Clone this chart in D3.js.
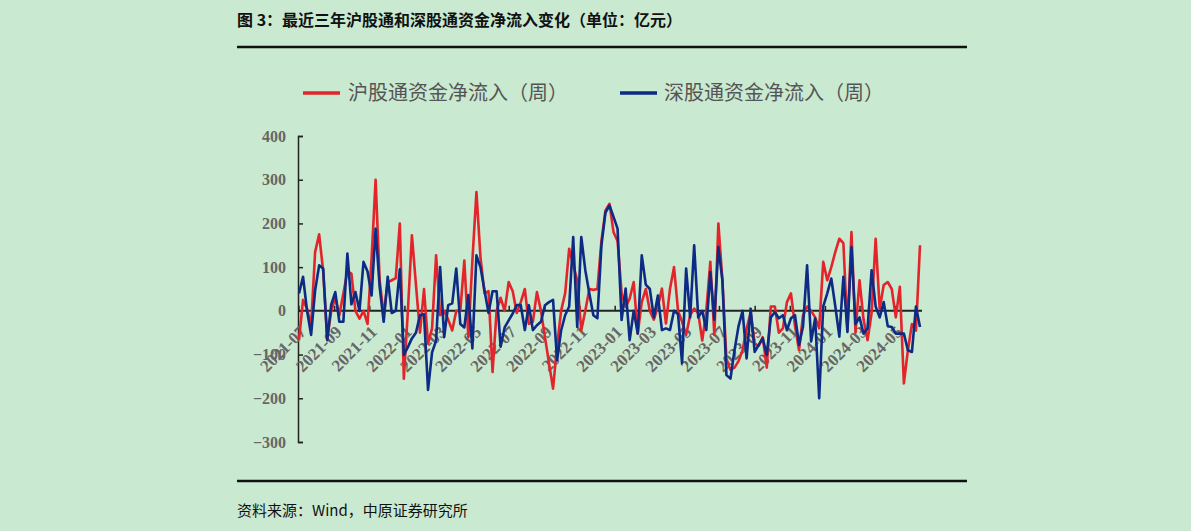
<!DOCTYPE html>
<html><head><meta charset="utf-8">
<script src="https://cdn.jsdelivr.net/npm/d3@7"></script>
<style>body{margin:0;background:#c9e9d0;}svg{display:block}</style>
</head><body><svg id="c" width="1191" height="531"></svg>
<script>
const startDate = "2021-07-02";
const yTicks = [-300,-200,-100,0,100,200,300,400];
const seriesNames = ["沪股通资金净流入（周）","深股通资金净流入（周）"];
const shValues = [-67,25,5,-35,135,175,90,-65,0,30,-10,40,90,85,0,-18,0,-30,120,300,70,-10,65,70,75,200,-155,0,173,60,-50,50,-75,-40,127,-10,0,-20,-45,0,0,115,-60,115,272,123,40,45,-140,0,30,0,66,45,-5,20,50,-30,-25,43,0,-60,-120,-178,-80,0,40,142,105,70,-45,0,50,48,50,160,230,245,180,160,40,9,28,66,-52,20,50,0,-20,10,51,-29,50,100,0,-25,-55,-10,5,-5,-68,0,112,-55,200,70,-110,-135,-130,-115,-90,-40,-5,-75,-80,-60,-130,10,10,-50,-40,20,40,-35,-90,-10,10,0,-15,-40,112,70,100,135,165,155,-45,180,-50,70,-20,-67,-5,165,5,59,66,50,-15,55,-166,-90,-30,-45,150];
const szValues = [40,78,0,-55,47,104,97,-67,15,43,-25,-25,131,15,43,0,112,90,35,188,55,-25,78,-5,0,95,-101,-83,-63,-50,-10,-8,-181,-95,-68,100,-60,13,17,97,-30,-38,36,-86,127,100,47,-5,45,45,-82,-38,-22,-6,13,13,-44,13,-44,-33,-25,13,20,25,-113,-45,-10,10,169,-37,169,93,40,-10,-17,150,225,241,215,188,-21,51,-67,0,-52,127,60,50,-15,35,-44,-40,-44,0,-8,-120,97,-15,150,-15,0,-44,89,-20,146,70,-147,-155,-90,-35,0,-109,5,-94,-78,-63,-101,-15,-3,-17,-10,-44,-17,-10,-78,-35,104,-70,-17,-200,10,40,74,10,-59,78,-48,146,-30,-15,-52,-40,93,10,-15,20,-35,-37,-52,-52,-52,-90,-94,10,-37];
const colors = ["#e3242b","#0d2a85"];

const svg = d3.select("#c");
const t0 = d3.timeParse("%Y-%m-%d")(startDate);
const dates = shValues.map((_,i)=>d3.timeWeek.offset(t0,i));
const x = d3.scaleTime().domain([t0, dates[dates.length-1]]).range([299,920]);
const y = d3.scaleLinear().domain([-300,400]).range([442,136]);
const serif = "'Liberation Serif','DejaVu Serif',serif";
const cjk = "'Noto Sans CJK SC',sans-serif";

svg.append("text").attr("x",237).attr("y",26).attr("font-family",cjk).attr("font-weight","bold").attr("font-size",16).attr("fill","#111").text("图 3：最近三年沪股通和深股通资金净流入变化（单位：亿元）");
svg.append("line").attr("x1",237).attr("x2",967).attr("y1",47).attr("y2",47).attr("stroke","#111").attr("stroke-width",2.5);
svg.append("line").attr("x1",237).attr("x2",967).attr("y1",481).attr("y2",481).attr("stroke","#111").attr("stroke-width",2.5);
svg.append("text").attr("x",237).attr("y",516).attr("font-family",cjk).attr("font-size",15).attr("fill","#111").text("资料来源：Wind，中原证券研究所");

const lg = [[303,348],[620,664]];
seriesNames.forEach((n,i)=>{
  svg.append("line").attr("x1",lg[i][0]).attr("x2",lg[i][0]+37).attr("y1",93).attr("y2",93).attr("stroke",colors[i]).attr("stroke-width",3.5);
  svg.append("text").attr("x",lg[i][1]).attr("y",100).attr("font-family",cjk).attr("font-size",20).attr("fill","#555").text(n);
});

const ya = svg.append("g").attr("transform","translate(298,0)").call(d3.axisLeft(y).tickValues(yTicks).tickSize(-5).tickPadding(12));
ya.select(".domain").attr("stroke","#222").attr("stroke-width",1.5);
ya.selectAll(".tick line").attr("stroke","#222").attr("stroke-width",1.5);
ya.selectAll("text").attr("font-family",serif).attr("font-weight","bold").attr("font-size",16).attr("fill","#666");

const months = d3.timeMonth.every(2).range(new Date(2021,6,1), new Date(2024,5,2));
const xa = svg.append("g").attr("transform",`translate(0,${y(0)})`).call(d3.axisBottom(x).tickValues(months).tickSize(-5).tickFormat(d3.timeFormat("%Y-%m")));
xa.select(".domain").attr("d",`M298,0H922`).attr("stroke","#222").attr("stroke-width",2);
xa.selectAll(".tick line").attr("stroke","#222").attr("stroke-width",1.5);
xa.selectAll("text").attr("font-family",serif).attr("font-weight","bold").attr("font-size",17).attr("fill","#666")
  .attr("text-anchor","end").attr("dy",0).attr("transform","translate(6,20) rotate(-45)");

const line = d3.line().x((d,i)=>x(dates[i])).y(d=>y(d));
[shValues, szValues].forEach((v,i)=>{
  svg.append("path").datum(v).attr("d",line).attr("fill","none").attr("stroke",colors[i]).attr("stroke-width",2.6).attr("stroke-linejoin","round");
});
</script></body></html>
